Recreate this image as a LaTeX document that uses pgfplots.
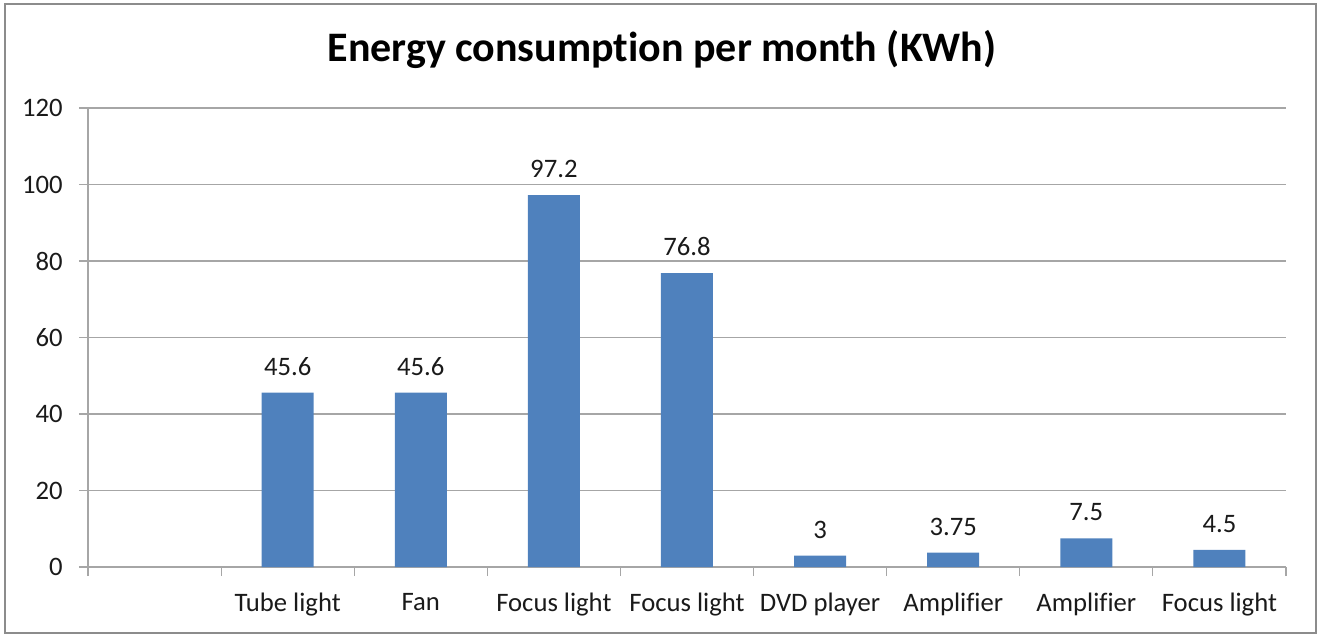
\documentclass[border=0pt]{standalone}
\usepackage{pgfplots}
\pgfplotsset{compat=1.18}
\usepackage{fontspec}
\setmainfont{Carlito}[Ligatures=NoCommon]
\definecolor{barblue}{HTML}{4F81BD}
\definecolor{gridgray}{HTML}{A6A6A6}
\definecolor{framegray}{HTML}{8C8C8C}
\definecolor{txt}{HTML}{1A1A1A}
\begin{document}
\begin{tikzpicture}
\useasboundingbox (-66pt,-52.5pt) rectangle (925.5pt,425.25pt);
\begin{axis}[
  scale only axis,
  width=898.5pt, height=344.25pt,
  xmin=-0.5, xmax=8.5, ymin=0, ymax=120,
  ytick={0,20,...,120},
  xtick={-0.5,0.5,...,8.5},
  xticklabels={},
  extra x ticks={1,...,8},
  extra x tick labels={Tube light,Fan,Focus light,Focus light,DVD player,Amplifier,Amplifier,Focus light},
  extra x tick style={major tick length=0pt},
  axis lines*=left,
  axis line style={gridgray, line width=0.9pt},
  ymajorgrids,
  major grid style={gridgray, line width=0.9pt},
  tick style={gridgray, line width=0.9pt},
  tick align=outside,
  major tick length=6.75pt,
  /pgf/number format/assume math mode=true,
  ticklabel style={font=\fontsize{20}{22}\selectfont, text=txt},
  yticklabel style={inner sep=0pt, xshift=-12pt},
  xticklabel style={inner sep=0pt, anchor=north, yshift=-19.5pt},
  title={\bfseries Energy consumption per month (KWh)},
  title style={at={(axis description cs:0.479,1.1002)}, anchor=base, inner sep=0pt, yshift=-5.25pt, font=\fontsize{31.5}{36}\selectfont, text=black},
  clip=false,
]
\addplot[ybar, bar width=39pt, fill=barblue, draw=none,
  nodes near coords,
  every node near coord/.append style={font=\fontsize{20}{22}\selectfont, text=txt, inner sep=0pt, anchor=south, yshift=12.75pt},
] coordinates {(1,45.6) (2,45.6) (3,97.2) (4,76.8) (5,3) (6,3.75) (7,7.5) (8,4.5)};
\end{axis}
\draw[framegray, line width=1.5pt] (-62.25pt,-49.5pt) rectangle (921pt,422.25pt);
\end{tikzpicture}
\end{document}
